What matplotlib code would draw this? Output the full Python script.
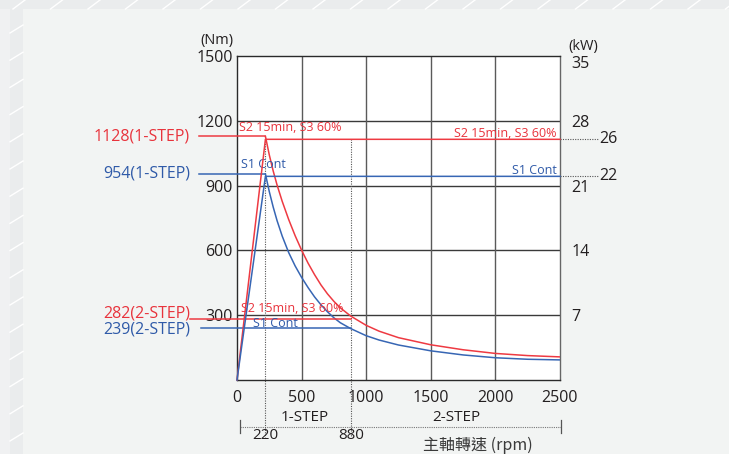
import matplotlib
matplotlib.use('Agg')
import matplotlib.pyplot as plt
from matplotlib.patches import Rectangle
from matplotlib.lines import Line2D
from matplotlib.transforms import blended_transform_factory

W, H = 729, 454

# ---------------- data ----------------
rpm_ticks = [0, 500, 1000, 1500, 2000, 2500]
nm_ticks = [300, 600, 900, 1200, 1500]
kw_ticks = [7, 14, 21, 28]
kw_top = 35
base_rpm = 220
switch_rpm = 880
max_rpm = 2500
s2_torque_1step = 1128
s1_torque_1step = 954
s2_torque_2step = 282
s1_torque_2step = 239
s2_power_kw = 26
s1_power_kw = 22

power_rpm = [0, base_rpm, max_rpm]
s2_power = [0, s2_power_kw, s2_power_kw]
s1_power = [0, s1_power_kw, s1_power_kw]

curve_rpm = [220, 250, 280, 310, 350, 400, 450, 500, 550, 600, 650, 700, 750,
             800, 880, 1000, 1100, 1250, 1500, 1750, 2000, 2250, 2500]
s2_torque_curve = [1128, 1042, 968, 903, 827, 743, 668, 601, 541, 488, 440, 399,
                   364, 334, 296, 253, 226, 196, 163, 140, 123, 113, 107]
s1_torque_curve = [954, 872, 801, 738, 666, 590, 528, 475, 428, 385, 348, 316,
                   288, 265, 238, 205, 185, 162, 135, 116, 103, 96, 93]

RED = '#ee3a42'
BLUE = '#3766b4'
RED_T = '#e8333c'
BLUE_T = '#2f5aa8'
INK = '#231f20'
FONT = ['Open Sans', 'DejaVu Sans']
CJK = ['Noto Sans CJK TC', 'DejaVu Sans']

plt.rcParams['font.family'] = FONT

fig = plt.figure(figsize=(W / 100, H / 100), dpi=100)
fig.patch.set_facecolor('#f2f4f3')


def fx(x):
    return x / W


def fy(y):
    return 1 - y / H


# ---------------- page decoration ----------------
fig.add_artist(Rectangle((0, 0), fx(10), 1, transform=fig.transFigure,
                         facecolor='#f0f1f2', edgecolor='none', zorder=0))
fig.add_artist(Rectangle((fx(10), 0), fx(13), 1, transform=fig.transFigure,
                         facecolor='#eaeced', edgecolor='none', zorder=0))
fig.add_artist(Rectangle((0, fy(9)), 1, 9 / H, transform=fig.transFigure,
                         facecolor='#eaeced', edgecolor='none', zorder=0))
k = 0
while 13 + 37.5 * k < W:
    x0 = 13 + 37.5 * k
    fig.add_artist(Line2D([fx(x0), fx(x0 + 12)], [fy(9), fy(0)],
                          transform=fig.transFigure, color='white', lw=1.0))
    k += 1
k = 0
while 25 + 27.2 * k < H:
    y0 = 25 + 27.2 * k
    fig.add_artist(Line2D([fx(10), fx(23)], [fy(y0 + 8), fy(y0)],
                          transform=fig.transFigure, color='white', lw=1.0))
    k += 1

# ---------------- axes ----------------
ax = fig.add_axes([fx(237), fy(380), 323 / W, 324 / H])
ax.set_facecolor('white')
ax.set_xlim(0, max_rpm)
ax.set_ylim(0, 1500)
ax.set_xticks(rpm_ticks)
ax.set_yticks(nm_ticks)
ax.tick_params(axis='both', length=0, colors=INK, labelsize=11.5)
ax.tick_params(axis='x', pad=7.5)
ax.tick_params(axis='y', pad=3)
for v in nm_ticks[:-1]:
    ax.axhline(v, color='#3a3a3a', lw=1.0, zorder=1)
for v in rpm_ticks[1:-1]:
    ax.axvline(v, color='#5a5a5a', lw=1.0, zorder=1)
for s in ['top', 'left', 'bottom']:
    ax.spines[s].set_color('#2a2a2a')
    ax.spines[s].set_linewidth(1.0)
ax.spines['right'].set_color('#666666')
ax.spines['right'].set_linewidth(1.0)

ax2 = ax.twinx()
ax2.set_ylim(0, kw_top)
ax2.set_yticks(kw_ticks)
ax2.tick_params(axis='y', length=0, colors=INK, labelsize=11.5, pad=8.4)
for s in ax2.spines.values():
    s.set_visible(False)
ax2.annotate(str(kw_top), xy=(1, kw_top), xycoords=('axes fraction', 'data'),
             xytext=(8.4, 0), textcoords='offset points', ha='left', va='top',
             fontsize=11.5, color=INK)

# ---------------- curves ----------------
lw = 1.1
ax.plot(curve_rpm, s2_torque_curve, color=RED, lw=lw, zorder=4)
ax.plot(curve_rpm, s1_torque_curve, color=BLUE, lw=lw, zorder=4)
ax2.plot(power_rpm, s2_power, color=RED, lw=lw, zorder=4, clip_on=False)
ax2.plot(power_rpm, s1_power, color=BLUE, lw=lw, zorder=4, clip_on=False)

# leader lines for torque levels (start left of the axes)
lead1 = -0.1176 * max_rpm
lead2r = -0.1455 * max_rpm
lead2b = -0.11 * max_rpm
ax.plot([lead1, base_rpm], [s2_torque_1step] * 2, color=RED, lw=lw, clip_on=False, zorder=4)
ax.plot([lead1, base_rpm], [s1_torque_1step] * 2, color=BLUE, lw=lw, clip_on=False, zorder=4)
ax.plot([lead2r, switch_rpm], [s2_torque_2step] * 2, color=RED, lw=lw, clip_on=False, zorder=4)
ax.plot([lead2b, switch_rpm], [s1_torque_2step] * 2, color=BLUE, lw=lw, clip_on=False, zorder=4)

# vertical dotted lines
bt = blended_transform_factory(ax.transData, ax.transAxes)
y_dot_bottom = -0.176
ax.plot([base_rpm, base_rpm], [s2_torque_1step / 1500, y_dot_bottom], transform=bt,
        color='#555555', lw=0.8, ls=(0, (1, 1.2)), clip_on=False, zorder=3)
ax.plot([switch_rpm, switch_rpm], [s2_power_kw / kw_top, y_dot_bottom], transform=bt,
        color='#555555', lw=0.8, ls=(0, (1, 1.2)), clip_on=False, zorder=3)

# right side dotted extensions for 26 / 22 kW
yt2 = ax2.get_yaxis_transform()
for kw in (s2_power_kw, s1_power_kw):
    ax2.plot([1.0, 1.1176], [kw, kw], transform=yt2, color='#555555', lw=0.8,
             ls=(0, (1, 1.2)), clip_on=False)
    ax2.text(1.1207, kw, str(kw), transform=yt2, ha='left', va='center',
             fontsize=11.5, color=INK)

# left labels
yt = ax.get_yaxis_transform()
ax.text(-0.1455, s2_torque_1step, f'{s2_torque_1step}(1-STEP)', transform=yt,
        ha='right', va='center', fontsize=11.5, color=RED_T)
ax.text(-0.1455, s1_torque_1step, f'{s1_torque_1step}(1-STEP)', transform=yt,
        ha='right', va='center', fontsize=11.5, color=BLUE_T)
ax.text(-0.1455, s2_torque_2step + 28, f'{s2_torque_2step}(2-STEP)', transform=yt,
        ha='right', va='center', fontsize=11.5, color=RED_T)
ax.text(-0.1455, s1_torque_2step - 7, f'{s1_torque_2step}(2-STEP)', transform=yt,
        ha='right', va='center', fontsize=11.5, color=BLUE_T)

# in-plot labels
S2 = 'S2 15min, S3 60%'
S1 = 'S1 Cont'
fs_in = 9
ax.text(15, 1171, S2, color=RED_T, fontsize=fs_in, ha='left', va='center', zorder=5)
ax.text(31, 1000, S1, color=BLUE_T, fontsize=fs_in, ha='left', va='center', zorder=5)
ax.text(2474, 1142, S2, color=RED_T, fontsize=fs_in, ha='right', va='center', zorder=5)
ax.text(2474, 968, S1, color=BLUE_T, fontsize=fs_in, ha='right', va='center', zorder=5)
ax.text(31, 332, S2, color=RED_T, fontsize=fs_in, ha='left', va='center', zorder=5)
ax.text(121, 262, S1, color=BLUE_T, fontsize=fs_in, ha='left', va='center', zorder=5)

# units
ax.text(-0.0093, 1.049, '(Nm)', transform=ax.transAxes, ha='right', va='center',
        fontsize=10.5, color=INK)
ax.text(1.071, 1.028, '(kW)', transform=ax.transAxes, ha='center', va='center',
        fontsize=10.5, color=INK)

# step bracket below axis
yb = -0.144
ax.plot([23, 2505], [yb, yb], transform=bt, color='#777777', lw=0.8,
        ls=(0, (1, 1.0)), clip_on=False)
for xe in (23, 2505):
    ax.plot([xe, xe], [-0.123, -0.164], transform=bt, color='#555555', lw=0.9,
            clip_on=False)
ax.text(525, -0.117, '1-STEP', transform=bt, ha='center', va='center',
        fontsize=11, color=INK)
ax.text(1695, -0.117, '2-STEP', transform=bt, ha='center', va='center',
        fontsize=11, color=INK)
ax.text(base_rpm, -0.170, str(base_rpm), transform=bt, ha='center', va='center',
        fontsize=11, color=INK)
ax.text(switch_rpm, -0.170, str(switch_rpm), transform=bt, ha='center', va='center',
        fontsize=11, color=INK)
ax.text(1865, -0.2006, '主軸轉速 (rpm)', transform=bt, ha='center', va='center',
        fontsize=11.5, color='#3a3a3a', family=CJK)

fig.savefig('out.png', dpi=100, facecolor=fig.get_facecolor())
